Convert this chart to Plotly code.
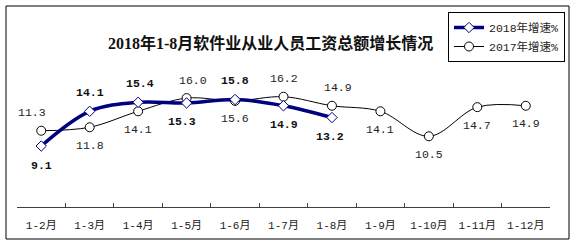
import plotly.graph_objects as go

categories = ["1-2月", "1-3月", "1-4月", "1-5月", "1-6月", "1-7月", "1-8月", "1-9月", "1-10月", "1-11月", "1-12月"]
growth_2018 = [9.1, 14.1, 15.4, 15.3, 15.8, 14.9, 13.2]
growth_2017 = [11.3, 11.8, 14.1, 16.0, 15.6, 16.2, 14.9, 14.1, 10.5, 14.7, 14.9]
name_2018 = "2018年增速%"
name_2017 = "2017年增速%"
title_text = "2018年1-8月软件业从业人员工资总额增长情况"

# label placement (above=+1 / below=-1) and small horizontal nudges
pos_2018 = [-1, 1, 1, -1, 1, -1, -1]
nudge_2018 = [0, 0, 2, -5, 0, 0, -2]
pos_2017 = [1, -1, -1, 1, -1, 1, 1, -1, -1, -1, -1]
nudge_2017 = [-9, 0, 0, 6, 0, 0, 6, 0, 0, 0, 0]

W, H = 578, 247
ML, MR, MT, MB = 17, 28, 40, 40
pw, ph = W - ML - MR, H - MT - MB

fig = go.Figure()
fig.add_trace(go.Scatter(
    x=categories, y=growth_2017, name=name_2017, mode="lines+markers",
    line=dict(color="#000000", width=1, shape="spline", smoothing=1),
    marker=dict(symbol="circle", size=9, color="white", line=dict(color="#000000", width=1)),
    legendrank=2,
))
fig.add_trace(go.Scatter(
    x=categories[:len(growth_2018)], y=growth_2018, name=name_2018, mode="lines+markers",
    line=dict(color="#000080", width=3.5, shape="spline", smoothing=1),
    marker=dict(symbol="diamond", size=8, color="white", line=dict(color="#000080", width=1)),
    legendrank=1,
))

annotations = []
for c, v, p, n in zip(categories, growth_2017, pos_2017, nudge_2017):
    annotations.append(dict(x=c, y=v, xref="x", yref="y", text=f"{v:.1f}", showarrow=False,
                            yshift=18 * p, xshift=n,
                            font=dict(family="Liberation Mono, Noto Sans CJK SC", size=11.5, color="#222222")))
for c, v, p, n in zip(categories, growth_2018, pos_2018, nudge_2018):
    annotations.append(dict(x=c, y=v, xref="x", yref="y", text=f"<b>{v:.1f}</b>", showarrow=False,
                            yshift=19 * p, xshift=n,
                            font=dict(family="Liberation Mono, Noto Sans CJK SC", size=11.5, color="#111111")))
annotations.append(dict(x=(270 - ML) / pw, y=(H - MB - 31.5) / ph, xref="paper", yref="paper",
                        text=f"<b>{title_text}</b>", showarrow=False,
                        font=dict(family="Liberation Serif, Noto Sans CJK SC", size=16, color="#111111")))

fig.update_layout(
    width=W, height=H,
    margin=dict(l=ML, r=MR, t=MT, b=MB),
    paper_bgcolor="white", plot_bgcolor="white",
    showlegend=True,
    legend=dict(x=(448 - ML) / pw, y=(H - MB - 12) / ph, xanchor="left", yanchor="top",
                bordercolor="#000000", borderwidth=1, bgcolor="white",
                font=dict(family="Liberation Mono, Noto Sans CJK SC", size=11.5, color="#222222"),
                itemwidth=30, tracegroupgap=0),
    annotations=annotations,
    shapes=[dict(type="rect", xref="paper", yref="paper",
                 x0=(6 - ML) / pw, x1=(569 - ML) / pw,
                 y0=(H - MB - 239) / ph, y1=(H - MB - 6) / ph,
                 line=dict(color="#000000", width=1), layer="below")],
)
fig.update_xaxes(type="category", range=[-0.5, len(categories) - 0.5],
                 showline=True, linecolor="#404040", linewidth=1,
                 ticks="inside", ticklen=4, tickcolor="#404040", tickson="boundaries",
                 showgrid=False, zeroline=False, ticklabelstandoff=8,
                 tickfont=dict(family="Liberation Mono, Noto Sans CJK SC", size=11, color="#222222"))
fig.update_yaxes(range=[0.31, 0.31 + ph / 6.94], visible=False, showgrid=False, zeroline=False)

fig.write_html("out.html")
